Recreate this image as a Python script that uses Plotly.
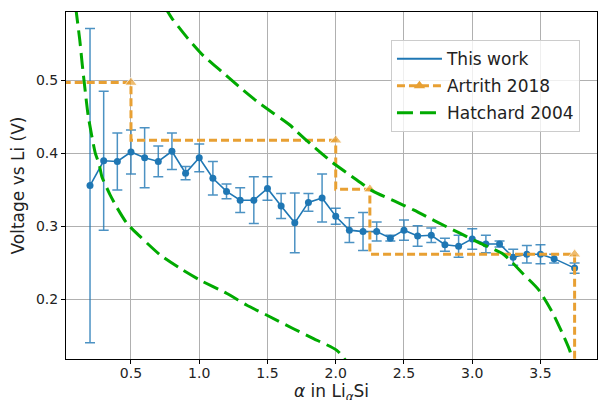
import plotly.graph_objects as go

# This work: average voltage vs Li content, with error bars
alpha_work = [0.2, 0.3, 0.4, 0.5, 0.6, 0.7, 0.8, 0.9, 1.0, 1.1, 1.2, 1.3, 1.4, 1.5,
              1.6, 1.7, 1.8, 1.9, 2.0, 2.1, 2.2, 2.3, 2.4, 2.5, 2.6, 2.7, 2.8, 2.9,
              3.0, 3.1, 3.2, 3.3, 3.4, 3.5, 3.6, 3.75]
volt_work = [0.356, 0.390, 0.389, 0.402, 0.394, 0.389, 0.403, 0.373, 0.394, 0.366,
             0.348, 0.336, 0.336, 0.352, 0.328, 0.305, 0.333, 0.339, 0.314, 0.295,
             0.293, 0.293, 0.284, 0.295, 0.287, 0.288, 0.275, 0.273, 0.283, 0.276,
             0.276, 0.258, 0.262, 0.262, 0.256, 0.243]
err_work = [0.215, 0.095, 0.039, 0.030, 0.041, 0.021, 0.025, 0.009, 0.019, 0.023,
            0.010, 0.017, 0.032, 0.016, 0.017, 0.041, 0.012, 0.033, 0.011, 0.017,
            0.026, 0.013, 0.004, 0.014, 0.014, 0.010, 0.009, 0.015, 0.014, 0.012,
            0.004, 0.011, 0.012, 0.013, 0.006, 0.007]

# Artrith 2018: step voltage profile
alpha_artrith = [0.0, 0.5, 2.0, 2.25, 3.75, 3.75]
volt_artrith = [0.497, 0.497, 0.418, 0.351, 0.262, 0.0]
marker_artrith = [0, 11, 11, 11, 11, 0]

# Hatchard 2004: discharge and charge branches
alpha_hatch_low = [0.095, 0.125, 0.1435, 0.165, 0.187, 0.239, 0.266, 0.287, 0.348,
                   0.397, 0.471, 0.568, 0.714, 0.861, 1.007, 1.203, 1.349, 1.496,
                   1.69, 1.837, 2.008, 2.08]
volt_hatch_low = [0.600, 0.555, 0.521, 0.485, 0.451, 0.400, 0.386, 0.368, 0.343,
                  0.326, 0.304, 0.286, 0.261, 0.2425, 0.2264, 0.2082, 0.1922, 0.1785,
                  0.160, 0.1466, 0.1305, 0.115]
alpha_hatch_up = [0.75, 0.80, 0.916, 1.031, 1.166, 1.30, 1.434, 1.666, 1.714, 1.846,
                  1.977, 2.116, 2.269, 2.428, 2.574, 2.74, 2.898, 3.052, 3.228, 3.372,
                  3.484, 3.588, 3.672, 3.715, 3.735]
volt_hatch_up = [0.600, 0.585, 0.5575, 0.5336, 0.5118, 0.490, 0.4696, 0.4386, 0.4299,
                 0.408, 0.3874, 0.3689, 0.3488, 0.335, 0.3223, 0.3063, 0.2918, 0.2775,
                 0.262, 0.2353, 0.214, 0.182, 0.149, 0.130, 0.115]

x_ticks = [0.5, 1.0, 1.5, 2.0, 2.5, 3.0, 3.5]
y_ticks = [0.2, 0.3, 0.4, 0.5]

BLUE = "#1f77b4"
ORANGE = "#E8A033"
GREEN = "#00AA00"
FONT = "DejaVu Sans"

ORANGE_LINE = dict(color=ORANGE, width=3, dash="8px,4px")
GREEN_LINE = dict(color=GREEN, width=3, dash="16px,7px")

fig = go.Figure()

fig.add_trace(go.Scatter(
    x=alpha_work, y=volt_work, name="This work", legendgroup="a", showlegend=False,
    mode="lines+markers",
    line=dict(color=BLUE, width=1.6),
    marker=dict(color=BLUE, size=7),
    error_y=dict(type="data", array=err_work, visible=True,
                 color="rgba(31,119,180,0.8)", thickness=1.5, width=5),
))

fig.add_trace(go.Scatter(
    x=alpha_artrith, y=volt_artrith, name="Artrith 2018", legendgroup="b",
    showlegend=False, mode="lines+markers", line_shape="vh",
    line=ORANGE_LINE,
    marker=dict(color=ORANGE, symbol="triangle-up", size=marker_artrith),
))

fig.add_trace(go.Scatter(
    x=alpha_hatch_low + [None] + alpha_hatch_up,
    y=volt_hatch_low + [None] + volt_hatch_up,
    name="Hatchard 2004", legendgroup="c", showlegend=False,
    mode="lines", line_shape="spline",
    line=dict(GREEN_LINE, smoothing=0.6),
))

# legend entries
fig.add_trace(go.Scatter(x=[None], y=[None], name="This work", legendgroup="a",
                         mode="lines", line=dict(color=BLUE, width=2)))
fig.add_trace(go.Scatter(x=[None], y=[None], name="Artrith 2018", legendgroup="b",
                         mode="lines+markers", line=ORANGE_LINE,
                         marker=dict(color=ORANGE, symbol="triangle-up", size=10)))
fig.add_trace(go.Scatter(x=[None], y=[None], name="Hatchard 2004", legendgroup="c",
                         mode="lines", line=GREEN_LINE))

axis_common = dict(
    showgrid=True, gridcolor="#b0b0b0", gridwidth=1,
    showline=True, linecolor="black", linewidth=1, mirror=True,
    ticks="outside", ticklen=4, tickcolor="black", tickwidth=1,
    tickfont=dict(family=FONT, size=14, color="#222"),
    zeroline=False, automargin=False,
)

fig.update_xaxes(
    range=[0.024, 3.914], tickvals=x_ticks,
    ticktext=[f"{v:.1f}" for v in x_ticks],
    ticklabelstandoff=-3,
    **axis_common,
)
fig.update_yaxes(
    range=[0.1186, 0.5936], tickvals=y_ticks,
    ticktext=[f"{v:.1f}" for v in y_ticks],
    title=dict(text="Voltage vs Li (V)",
               font=dict(family=FONT, size=17, color="#222"), standoff=6),
    **axis_common,
)

# x-axis title placed just above the bottom edge
fig.add_annotation(
    text="<i>α</i> in Li<sub><i>α</i></sub>Si",
    xref="paper", yref="paper", x=0.5, y=-0.097,
    xanchor="center", yanchor="middle", showarrow=False,
    font=dict(family=FONT, size=17, color="#222"),
)

fig.update_layout(
    width=599, height=400,
    margin=dict(l=66, r=2, t=12, b=41),
    paper_bgcolor="white", plot_bgcolor="white",
    font=dict(family=FONT, color="#222"),
    legend=dict(
        x=0.612, y=0.919, xanchor="left", yanchor="top",
        bgcolor="rgba(255,255,255,0.8)", bordercolor="#cccccc", borderwidth=1,
        font=dict(family=FONT, size=17, color="#222"),
        tracegroupgap=2, itemwidth=45,
    ),
    showlegend=True,
)

fig.write_html("out.html")
